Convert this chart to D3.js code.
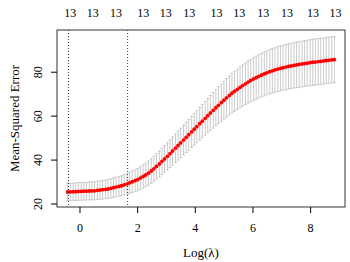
<!DOCTYPE html>
<html>
<head>
<meta charset="utf-8">
<script src="https://cdn.jsdelivr.net/npm/d3@7"></script>
<style>
  body { margin: 0; background: #fff; }
  svg, svg text { font-family: "Times New Roman", "Liberation Serif", Times, serif !important; }
</style>
</head>
<body>
<div id="chart"></div>
<script>
// cross-validation curve
const logLambda = [-0.41, -0.32, -0.22, -0.13, -0.04, 0.06, 0.15, 0.24, 0.34, 0.43,
  0.52, 0.62, 0.71, 0.80, 0.90, 0.99, 1.09, 1.18, 1.27, 1.37,
  1.46, 1.55, 1.65, 1.74, 1.83, 1.93, 2.02, 2.11, 2.21, 2.30,
  2.39, 2.49, 2.58, 2.67, 2.77, 2.86, 2.95, 3.05, 3.14, 3.23,
  3.33, 3.42, 3.51, 3.61, 3.70, 3.79, 3.89, 3.98, 4.07, 4.17,
  4.26, 4.36, 4.45, 4.54, 4.64, 4.73, 4.82, 4.92, 5.01, 5.10,
  5.20, 5.29, 5.38, 5.48, 5.57, 5.66, 5.76, 5.85, 5.94, 6.04,
  6.13, 6.22, 6.32, 6.41, 6.50, 6.60, 6.69, 6.78, 6.88, 6.97,
  7.06, 7.16, 7.25, 7.34, 7.44, 7.53, 7.62, 7.72, 7.81, 7.90,
  8.00, 8.09, 8.18, 8.28, 8.37, 8.47, 8.56, 8.65, 8.75, 8.84];

const cvm = [25.3, 25.3, 25.4, 25.4, 25.5, 25.5, 25.6, 25.6, 25.7, 25.8,
  25.8, 26.0, 26.1, 26.3, 26.4, 26.6, 26.9, 27.2, 27.5, 27.8,
  28.1, 28.5, 28.9, 29.4, 29.9, 30.4, 30.9, 31.6, 32.3, 33.0,
  33.8, 34.8, 35.8, 36.9, 38.0, 39.2, 40.3, 41.5, 42.7, 43.9,
  45.2, 46.4, 47.6, 48.9, 50.1, 51.3, 52.6, 53.8, 55.0, 56.3,
  57.5, 58.8, 60.0, 61.2, 62.4, 63.6, 64.7, 65.9, 67.0, 68.1,
  69.2, 70.2, 71.1, 72.0, 72.9, 73.7, 74.5, 75.3, 76.0, 76.7,
  77.3, 77.9, 78.5, 79.0, 79.5, 80.0, 80.4, 80.8, 81.2, 81.5,
  81.8, 82.1, 82.4, 82.6, 82.9, 83.1, 83.3, 83.5, 83.7, 83.9,
  84.1, 84.3, 84.4, 84.6, 84.7, 84.9, 85.1, 85.2, 85.4, 85.5];

const cvsd = [3.9, 3.9, 3.9, 4.0, 4.0, 4.0, 4.0, 4.0, 4.1, 4.1,
  4.1, 4.1, 4.2, 4.2, 4.2, 4.3, 4.3, 4.4, 4.4, 4.5,
  4.5, 4.6, 4.7, 4.8, 4.9, 5.0, 5.1, 5.2, 5.3, 5.4,
  5.5, 5.6, 5.7, 5.8, 5.9, 6.0, 6.1, 6.2, 6.3, 6.4,
  6.5, 6.6, 6.7, 6.8, 6.9, 7.0, 7.1, 7.2, 7.3, 7.5,
  7.6, 7.7, 7.8, 8.0, 8.1, 8.2, 8.4, 8.5, 8.6, 8.8,
  8.9, 9.0, 9.1, 9.2, 9.3, 9.4, 9.5, 9.6, 9.7, 9.8,
  9.8, 9.9, 9.9, 10.0, 10.0, 10.1, 10.1, 10.1, 10.2, 10.2,
  10.2, 10.3, 10.3, 10.3, 10.3, 10.4, 10.4, 10.4, 10.4, 10.4,
  10.5, 10.5, 10.5, 10.5, 10.5, 10.5, 10.5, 10.5, 10.5, 10.5];

// number of nonzero coefficients shown on top
const topAt = [-0.32, 0.46, 1.27, 2.21, 2.99, 3.81, 4.75, 5.54, 6.37, 7.20, 8.10, 8.88];
const topLabels = ["13", "13", "13", "13", "13", "13", "13", "13", "13", "13", "13", "13"];

const lambdaMin = -0.38, lambda1se = 1.67;
const xTicks = [0, 2, 4, 6, 8];
const yTicks = [20, 40, 60, 80];

let width = 350, height = 262,
    margin = ({ top: 30, right: 5, bottom: 55, left: 57 });

const serif = '"Times New Roman", "Liberation Serif", serif';

const data = logLambda.map((d, i) => ({ x: d, m: cvm[i], lo: cvm[i] - cvsd[i], hi: cvm[i] + cvsd[i] }));

// R style 4% padding
function pad(ext) {
  let r = ext[1] - ext[0];
  return [ext[0] - 0.04 * r, ext[1] + 0.04 * r];
}

let x = d3.scaleLinear()
  .domain(pad(d3.extent(logLambda)))
  .range([margin.left, width - margin.right]);

let y = d3.scaleLinear()
  .domain(pad([d3.min(data, d => d.lo), d3.max(data, d => d.hi)]))
  .range([height - margin.bottom, margin.top]);

const svg = d3.select("#chart")
  .append("svg")
  .attr("width", width)
  .attr("height", height)
  .attr("font-family", serif);

// error bars
let bars = svg.append("g")
  .attr("stroke", "#bdbdbd")
  .attr("stroke-width", 0.8);

bars.selectAll(".v").data(data).join("line")
  .attr("x1", d => x(d.x)).attr("x2", d => x(d.x))
  .attr("y1", d => y(d.lo)).attr("y2", d => y(d.hi));
bars.selectAll(".cu").data(data).join("line")
  .attr("x1", d => x(d.x) - 1.4).attr("x2", d => x(d.x) + 1.4)
  .attr("y1", d => y(d.hi)).attr("y2", d => y(d.hi));
bars.selectAll(".cl").data(data).join("line")
  .attr("x1", d => x(d.x) - 1.4).attr("x2", d => x(d.x) + 1.4)
  .attr("y1", d => y(d.lo)).attr("y2", d => y(d.lo));

// red points
svg.append("g")
  .selectAll("circle")
  .data(data)
  .join("circle")
  .attr("cx", d => x(d.x))
  .attr("cy", d => y(d.m))
  .attr("r", 1.9)
  .attr("fill", "#ff0000");

// dotted lines at lambda.min and lambda.1se
svg.append("g")
  .selectAll("line")
  .data([lambdaMin, lambda1se])
  .join("line")
  .attr("x1", d => x(d)).attr("x2", d => x(d))
  .attr("y1", margin.top).attr("y2", height - margin.bottom)
  .attr("stroke", "#000")
  .attr("stroke-width", 0.8)
  .attr("stroke-dasharray", "1,2");

// box
svg.append("rect")
  .attr("x", margin.left).attr("y", margin.top)
  .attr("width", width - margin.right - margin.left)
  .attr("height", height - margin.bottom - margin.top)
  .attr("fill", "none")
  .attr("stroke", "#333")
  .attr("stroke-width", 1);

// x axis
let xAxis = svg.append("g")
  .attr("transform", `translate(0,${height - margin.bottom})`)
  .call(d3.axisBottom(x).tickValues(xTicks).tickSize(6).tickPadding(10));
xAxis.attr("font-family", serif);
xAxis.select(".domain").remove();
xAxis.selectAll("text").attr("font-size", 12);

// y axis
let yAxis = svg.append("g")
  .attr("transform", `translate(${margin.left},0)`)
  .call(d3.axisLeft(y).tickValues(yTicks).tickSize(6));
yAxis.attr("font-family", serif);
yAxis.select(".domain").remove();
yAxis.selectAll("text")
  .attr("font-size", 12)
  .attr("text-anchor", "middle")
  .attr("transform", "translate(-19,0) rotate(-90)")
  .attr("x", null).attr("dy", null)
  .attr("dominant-baseline", "central");

// top labels
svg.append("g")
  .selectAll("text")
  .data(topAt)
  .join("text")
  .attr("x", d => x(d))
  .attr("y", 13)
  .attr("text-anchor", "middle")
  .attr("dominant-baseline", "central")
  .attr("font-size", 12)
  .text((d, i) => topLabels[i]);

// axis titles
svg.append("text")
  .attr("x", (margin.left + width - margin.right) / 2)
  .attr("y", 252)
  .attr("text-anchor", "middle")
  .attr("dominant-baseline", "central")
  .attr("font-size", 13)
  .text("Log(λ)");

svg.append("text")
  .attr("transform", `translate(14,${(margin.top + height - margin.bottom) / 2}) rotate(-90)`)
  .attr("text-anchor", "middle")
  .attr("dominant-baseline", "central")
  .attr("font-size", 13)
  .text("Mean-Squared Error");
</script>
</body>
</html>
